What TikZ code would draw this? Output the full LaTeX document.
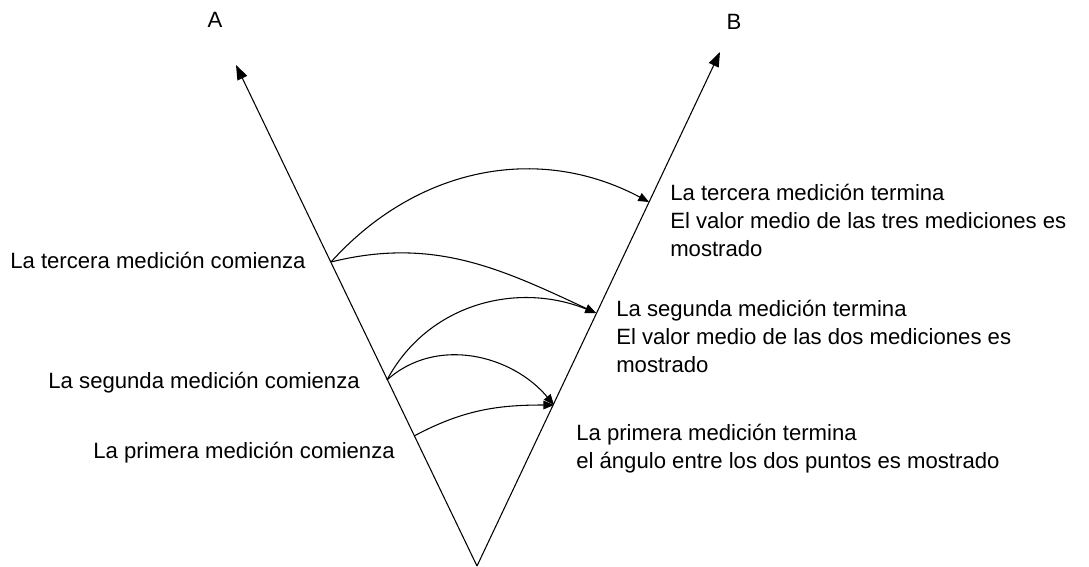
\documentclass[tikz,border=0pt]{standalone}
\usepackage{fontspec}
\setmainfont{Liberation Sans}
\usetikzlibrary{arrows.meta}
\begin{document}
\begin{tikzpicture}[x=0.75pt,y=0.75pt,
  ln/.style={line width=0.8pt,black},
  arc/.style={line width=0.8pt,black,-{Triangle[length=8pt,width=6.5pt]}},
  lbl/.style={inner sep=0pt,font=\fontsize{16.6}{21}\selectfont,align=left},
]
\useasboundingbox (0,0) rectangle (1089,-567);
% geometry
\coordinate (V) at (477,-566);
\coordinate (Atip) at (236,-65);
\coordinate (Btip) at (720,-52);
\coordinate (s1) at (414,-436);
\coordinate (s2) at (387,-380);
\coordinate (s3) at (331,-262);
\coordinate (e1) at (554,-405);
\coordinate (e2) at (596,-313);
\coordinate (e3) at (649,-202);
% main lines
\draw[ln,-{Triangle[length=11pt,width=8pt]}] (V) -- (Atip);
\draw[ln,-{Triangle[length=11pt,width=8pt]}] (V) -- (Btip);
% arcs
\draw[arc] (s1) to[out=28,in=180] (e1);
\draw[arc] (s2) to[out=42,in=130] (e1);
\draw[arc] (s2) to[out=62,in=158] (e2);
\draw[arc] (s3) to[out=14,in=155] (e2);
\draw[arc] (s3) to[out=48,in=152] (e3);
% labels
\node[lbl,anchor=center] (A) at (215,-20) {A};
\node[lbl,anchor=center] (B) at (734,-22) {B};
\node[lbl,anchor=base west] (c3) at (10,-268) {La tercera medición comienza};
\node[lbl,anchor=base east] (c2) at (360,-388) {La segunda medición comienza};
\node[lbl,anchor=base east] (c1) at (395,-458) {La primera medición comienza};
\node[lbl,anchor=base west] (t3) at (670,-200) {La tercera medición termina};
\node[lbl,anchor=base west] (t3b) at (670,-228) {El valor medio de las tres mediciones es};
\node[lbl,anchor=base west] (t3c) at (670,-256) {mostrado};
\node[lbl,anchor=base west] (t2) at (616,-316) {La segunda medición termina};
\node[lbl,anchor=base west] (t2b) at (616,-344) {El valor medio de las dos mediciones es};
\node[lbl,anchor=base west] (t2c) at (616,-372) {mostrado};
\node[lbl,anchor=base west] (t1) at (576,-440) {La primera medición termina};
\node[lbl,anchor=base west] (t1b) at (576,-468) {el ángulo entre los dos puntos es mostrado};
\end{tikzpicture}
\end{document}
